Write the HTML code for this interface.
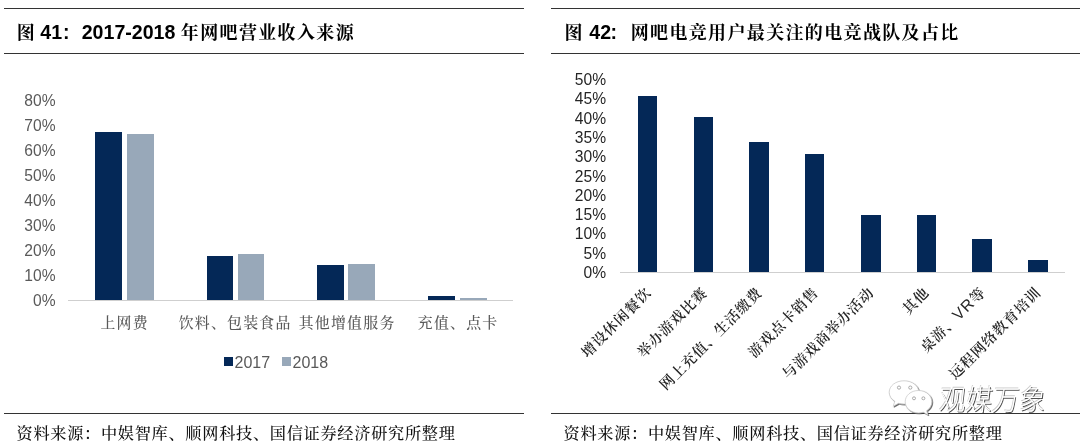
<!DOCTYPE html>
<html lang="zh-CN">
<head>
<meta charset="utf-8">
<title>图 41 / 图 42</title>
<style>
html,body{margin:0;padding:0;background:#fff;}
body{width:1080px;height:447px;overflow:hidden;position:relative;
  font-family:"Liberation Sans","Noto Serif CJK SC",serif;}
#page{position:absolute;left:0;top:0;width:1080px;height:447px;background:#fff;overflow:hidden;}
.abs{position:absolute;}
.hline{position:absolute;height:1.3px;background:#333;}
.title{position:absolute;top:16.5px;height:30px;line-height:30px;font-size:19.3px;font-weight:700;color:#000;white-space:nowrap;
  font-family:"Liberation Sans","Noto Serif CJK SC",serif;}
.n{font-size:19.6px;}
.c{font-size:18px;letter-spacing:1.35px;position:relative;top:0.5px;}
.co{display:inline-block;width:19.6px;text-indent:1px;font-size:19.6px;}
.src{position:absolute;top:420.6px;height:24px;line-height:24px;font-size:16.2px;letter-spacing:0.7px;font-weight:500;color:#111;white-space:nowrap;
  font-family:"Liberation Sans","Noto Serif CJK SC",serif;}
.yl{position:absolute;font-size:15.6px;line-height:16px;height:16px;color:#595959;text-align:right;white-space:nowrap;}
.yr{position:absolute;font-size:15.6px;line-height:16px;height:16px;color:#262626;text-align:right;white-space:nowrap;}
.bar{position:absolute;}
.d{background:#042857;}
.g{background:#98a8b9;}
.axis{position:absolute;height:1px;background:#cfcfcf;}
.cl{position:absolute;font-size:14.9px;letter-spacing:1.25px;text-indent:1.25px;font-weight:500;line-height:20px;height:20px;color:#595959;white-space:nowrap;text-align:center;
  font-family:"Liberation Sans","Noto Serif CJK SC",serif;}
.rl{position:absolute;font-weight:600;font-size:14.4px;letter-spacing:0.9px;margin-right:-0.9px;line-height:20px;height:20px;color:#262626;white-space:nowrap;text-align:right;
  transform-origin:100% 50%;transform:rotate(-45deg);
  font-family:"Liberation Sans","Noto Serif CJK SC",serif;}
.lg{position:absolute;font-size:16px;line-height:16px;height:16px;color:#595959;white-space:nowrap;}
.wm{position:absolute;left:938px;top:382.5px;font-size:26.6px;line-height:36px;height:36px;color:#fff;white-space:nowrap;
  font-family:"Liberation Sans","Noto Sans CJK SC",sans-serif;font-weight:300;transform-origin:0 80%;transform:scale(1,1.07) skewX(-7deg);
  text-shadow:1px 1px 0.6px #505050, -0.4px -0.4px 0.5px #c8c8c8;}
</style>
</head>
<body>
<div id="page">

<!-- ===== left panel ===== -->
<div class="hline" style="left:3.5px;top:7.6px;width:520.7px;"></div>
<div class="title" style="left:15.5px;"><span class="c" style="margin:0 -1.2px 0 1.2px;">图</span><span class="n"> 41</span><span class="co">:</span><span class="n">2017-2018 </span><span class="c">年网吧营业收入来源</span></div>
<div class="hline" style="left:3.5px;top:52.6px;width:520.7px;"></div>

<div class="yl" style="left:15.5px;width:40px;top:93px;">80%</div>
<div class="yl" style="left:15.5px;width:40px;top:118px;">70%</div>
<div class="yl" style="left:15.5px;width:40px;top:143px;">60%</div>
<div class="yl" style="left:15.5px;width:40px;top:168px;">50%</div>
<div class="yl" style="left:15.5px;width:40px;top:193px;">40%</div>
<div class="yl" style="left:15.5px;width:40px;top:218px;">30%</div>
<div class="yl" style="left:15.5px;width:40px;top:243px;">20%</div>
<div class="yl" style="left:15.5px;width:40px;top:268px;">10%</div>
<div class="yl" style="left:15.5px;width:40px;top:293px;">0%</div>

<div class="bar d" style="left:95px;width:26.8px;top:132.3px;height:167.7px;"></div>
<div class="bar g" style="left:127px;width:26.8px;top:134px;height:166px;"></div>
<div class="bar d" style="left:206.5px;width:26.5px;top:255.5px;height:44.5px;"></div>
<div class="bar g" style="left:237.7px;width:26.6px;top:253.7px;height:46.3px;"></div>
<div class="bar d" style="left:317px;width:27px;top:265.3px;height:34.7px;"></div>
<div class="bar g" style="left:348.3px;width:26.7px;top:264.3px;height:35.7px;"></div>
<div class="bar d" style="left:427.5px;width:27px;top:295.5px;height:4.5px;"></div>
<div class="bar g" style="left:459.5px;width:27px;top:297.8px;height:2.2px;"></div>
<div class="axis" style="left:68px;width:445px;top:300.2px;"></div>

<div class="cl" style="left:64px;width:120px;top:312.6px;">上网费</div>
<div class="cl" style="left:164.5px;width:140px;top:312.6px;">饮料、包装食品</div>
<div class="cl" style="left:276.5px;width:140px;top:312.6px;">其他增值服务</div>
<div class="cl" style="left:387.5px;width:140px;top:312.6px;">充值、点卡</div>

<div class="bar d" style="left:224px;top:357px;width:9px;height:9px;"></div>
<div class="lg" style="left:234.5px;top:354.5px;">2017</div>
<div class="bar g" style="left:282px;top:357px;width:9px;height:9px;"></div>
<div class="lg" style="left:292.5px;top:354.5px;">2018</div>

<div class="hline" style="left:3.5px;top:412.6px;width:520.7px;"></div>
<div class="src" style="left:16.5px;">资料来源：中娱智库、顺网科技、国信证券经济研究所整理</div>

<!-- ===== right panel ===== -->
<div class="hline" style="left:550.6px;top:7.6px;width:530px;"></div>
<div class="title" style="left:564.5px;"><span class="c">图</span><span class="n"> 42</span><span class="co" style="text-indent:-0.5px;">:</span><span class="c">网吧电竞用户最关注的电竞战队及占比</span></div>
<div class="hline" style="left:550.6px;top:52.6px;width:530px;"></div>

<div class="yr" style="left:566px;width:40px;top:72px;">50%</div>
<div class="yr" style="left:566px;width:40px;top:91.3px;">45%</div>
<div class="yr" style="left:566px;width:40px;top:110.6px;">40%</div>
<div class="yr" style="left:566px;width:40px;top:129.9px;">35%</div>
<div class="yr" style="left:566px;width:40px;top:149.2px;">30%</div>
<div class="yr" style="left:566px;width:40px;top:168.5px;">25%</div>
<div class="yr" style="left:566px;width:40px;top:187.8px;">20%</div>
<div class="yr" style="left:566px;width:40px;top:207.1px;">15%</div>
<div class="yr" style="left:566px;width:40px;top:226.4px;">10%</div>
<div class="yr" style="left:566px;width:40px;top:245.7px;">5%</div>
<div class="yr" style="left:566px;width:40px;top:265px;">0%</div>

<div class="bar d" style="left:637.8px;width:19.6px;top:95.6px;height:176.4px;"></div>
<div class="bar d" style="left:693.6px;width:19.4px;top:117.4px;height:154.6px;"></div>
<div class="bar d" style="left:749.3px;width:19.5px;top:141.8px;height:130.2px;"></div>
<div class="bar d" style="left:805px;width:19.3px;top:154.4px;height:117.6px;"></div>
<div class="bar d" style="left:861.2px;width:19.4px;top:215px;height:57px;"></div>
<div class="bar d" style="left:916.6px;width:19.2px;top:215px;height:57px;"></div>
<div class="bar d" style="left:972.4px;width:19.5px;top:239.2px;height:32.8px;"></div>
<div class="bar d" style="left:1027.5px;width:20px;top:260px;height:12px;"></div>
<div class="axis" style="left:620px;width:445px;top:271.5px;"></div>

<div class="rl" style="right:432px;top:279.5px;">增设休闲餐饮</div>
<div class="rl" style="right:376.4px;top:279.5px;">举办游戏比赛</div>
<div class="rl" style="right:320.8px;top:279.5px;">网上充值、生活缴费</div>
<div class="rl" style="right:265.1px;top:279.5px;">游戏点卡销售</div>
<div class="rl" style="right:209.5px;top:279.5px;">与游戏商举办活动</div>
<div class="rl" style="right:153.9px;top:279.5px;">其他</div>
<div class="rl" style="right:98.3px;top:279.5px;">桌游、<span style="font-size:15.8px;font-weight:400;">VR</span>等</div>
<div class="rl" style="right:42.7px;top:279.5px;">远程网络教育培训</div>

<div class="hline" style="left:550.6px;top:412.6px;width:530px;"></div>
<div class="src" style="left:563.5px;">资料来源：中娱智库、顺网科技、国信证券经济研究所整理</div>

<!-- watermark -->
<svg class="abs" style="left:886px;top:378px;" width="52" height="44" viewBox="0 0 52 44">
  <defs>
    <filter id="ds" x="-10%" y="-10%" width="130%" height="130%">
      <feDropShadow dx="0.9" dy="0.9" stdDeviation="0.45" flood-color="#4a4a4a" flood-opacity="0.95"/>
    </filter>
  </defs>
  <g fill="#fff" stroke="#c4c4c4" stroke-width="0.7" filter="url(#ds)">
    <path d="M18 2.8 C9.5 2.8 3.2 8 3.2 14.2 c0 3.800 2.200 7 5.600 9.100 l-1.600 5 5.400 -3 c1.700 0.500 3.500 0.800 5.400 0.800 c8.500 0 14.800 -5.300 14.800 -11.900 C32.800 8 26.500 2.800 18 2.800z"/>
    <path d="M32.5 12.5 c-7.6 0 -13.3 5 -13.3 11.2 s5.7 11.2 13.3 11.2 c1.7 0 3.3 -0.3 4.8 -0.7 l4.6 2.6 -1.3 -4 c3.2 -2 5.2 -5.400 5.2 -9.1 c0 -6.200 -5.700 -11.200 -13.300 -11.200z"/>
  </g>
  <g fill="#fff" stroke="#8a8a8a" stroke-width="0.7">
    <circle cx="13" cy="9.6" r="1.6"/><circle cx="24.3" cy="9.6" r="1.6"/>
    <circle cx="28" cy="20.3" r="1.5"/><circle cx="37.4" cy="20.3" r="1.5"/>
  </g>
</svg>
<div class="wm">观媒万象</div>

</div>
</body>
</html>
